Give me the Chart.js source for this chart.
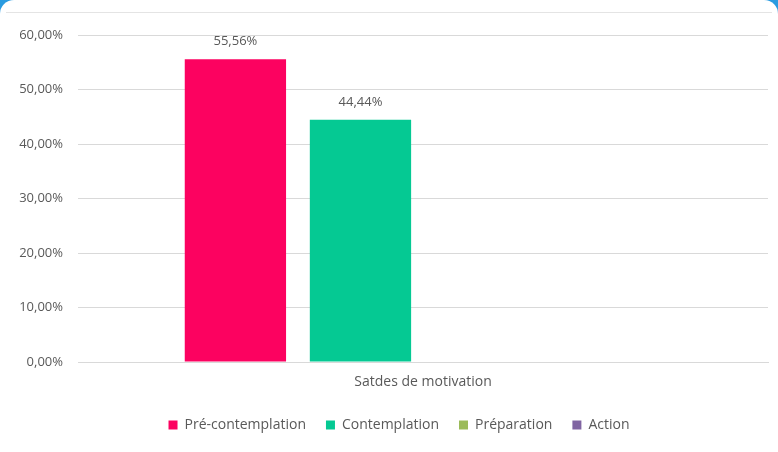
<!DOCTYPE html>
<html>
<head>
<meta charset="utf-8">
<script src="https://cdn.jsdelivr.net/npm/chart.js@4/dist/chart.umd.min.js"></script>
<style>
  html, body { margin: 0; padding: 0; background: #ffffff; }
  #wrap { position: relative; width: 778px; height: 452px; background: #2a9be0; overflow: hidden; }
  #card { position: absolute; left: 0; top: 0; width: 778px; height: 452px; background: #ffffff; border-top-left-radius: 14px; border-top-right-radius: 14px; }
  #topline { position: absolute; left: 6px; right: 6px; top: 12px; height: 1px; background: #e4e4e4; }
  #c { position: absolute; left: 0; top: 0; }
</style>
</head>
<body>
<div id="wrap">
  <div id="card"></div>
  <div id="topline"></div>
  <canvas id="c" width="778" height="452"></canvas>
</div>
<script>
const categories = ["Satdes de motivation"];
const seriesNames = ["Pré-contemplation", "Contemplation", "Préparation", "Action"];
const seriesValues = [[55.56], [44.44], [0], [0]];
const seriesColors = ["#fc0260", "#05c993", "#9bbb59", "#8064a2"];
const yTicks = [0, 10, 20, 30, 40, 50, 60];

const fmt = v => v.toFixed(2).replace('.', ',') + '%';
const textColor = '#595959';
const fontFamily = '"Open Sans", "Noto Sans", sans-serif';

const dataLabels = {
  id: 'dataLabels',
  afterDatasetsDraw(chart) {
    const ctx = chart.ctx;
    ctx.save();
    ctx.font = '13px ' + fontFamily;
    ctx.fillStyle = textColor;
    ctx.textAlign = 'center';
    ctx.textBaseline = 'bottom';
    chart.data.datasets.forEach((ds, i) => {
      const meta = chart.getDatasetMeta(i);
      meta.data.forEach((bar, j) => {
        const v = ds.data[j];
        if (v > 0) ctx.fillText(fmt(v), bar.x, bar.y - 11);
      });
    });
    ctx.restore();
  }
};

const legendShift = {
  id: 'legendShift',
  afterLayout(chart) {
    if (chart.legend) chart.legend.left += 30;
  }
};

new Chart(document.getElementById('c'), {
  type: 'bar',
  data: {
    labels: categories,
    datasets: seriesNames.map((n, i) => ({
      label: n,
      data: seriesValues[i],
      backgroundColor: seriesColors[i],
      borderWidth: 0,
      categoryPercentage: 0.725,
      barPercentage: 0.81
    }))
  },
  options: {
    responsive: false,
    animation: false,
    layout: { padding: { top: 35, right: 10, bottom: 10, left: 0 } },
    plugins: {
      legend: {
        position: 'bottom',
        labels: {
          boxWidth: 9, boxHeight: 9, padding: 20,
          color: textColor,
          font: { size: 14, family: fontFamily }
        }
      },
      tooltip: { enabled: false }
    },
    scales: {
      x: {
        grid: { display: false, drawTicks: false },
        border: { display: true, color: '#d9d9d9', width: 1 },
        ticks: { color: textColor, font: { size: 14, family: fontFamily }, padding: 12 },
        afterFit: s => { s.height = 36; }
      },
      y: {
        min: 0, max: 60,
        afterBuildTicks: s => { s.ticks = yTicks.map(v => ({ value: v })); },
        grid: { color: '#d9d9d9', drawTicks: false },
        border: { display: false },
        ticks: { color: textColor, font: { size: 13, family: fontFamily }, padding: 15, callback: v => fmt(v) },
        afterFit: s => { s.width = 78; }
      }
    }
  },
  plugins: [dataLabels, legendShift]
});
</script>
</body>
</html>
